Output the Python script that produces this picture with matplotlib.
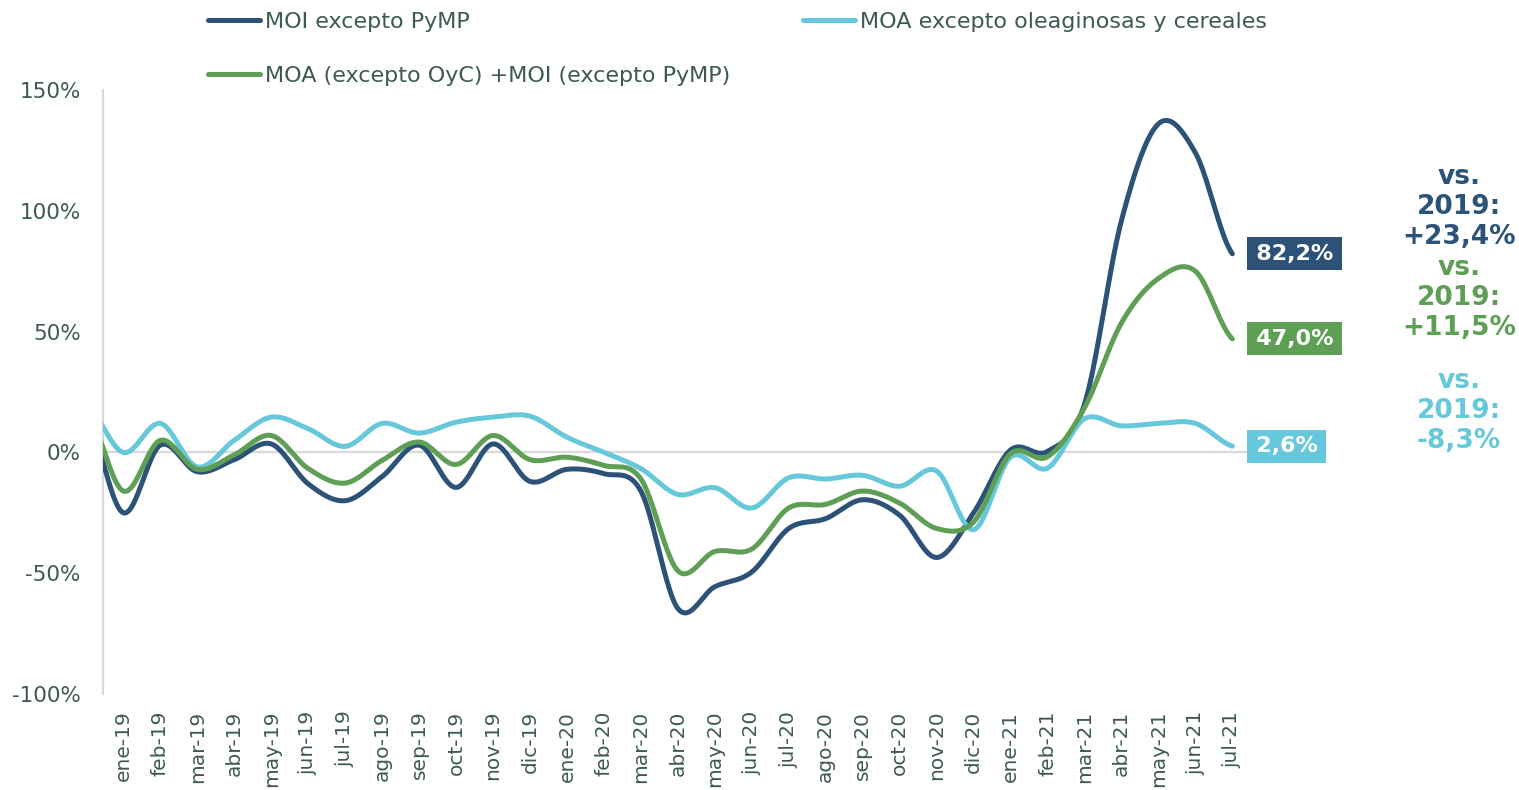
import matplotlib
matplotlib.use("Agg")
import matplotlib.pyplot as plt
import numpy as np
from matplotlib.lines import Line2D

# monthly year-on-year change (%), first value is dic-18 (outside the visible range)
meses = ["ene-19", "feb-19", "mar-19", "abr-19", "may-19", "jun-19", "jul-19", "ago-19",
         "sep-19", "oct-19", "nov-19", "dic-19", "ene-20", "feb-20", "mar-20", "abr-20",
         "may-20", "jun-20", "jul-20", "ago-20", "sep-20", "oct-20", "nov-20", "dic-20",
         "ene-21", "feb-21", "mar-21", "abr-21", "may-21", "jun-21", "jul-21"]
moi = [15, -25, 3, -8, -3, 3.5, -13, -20, -10, 3, -14.5, 3.5, -12, -7, -8.8, -16, -64.6,
       -55.6, -49.5, -31.5, -27.4, -19.6, -26, -43.5, -25, 1, 0.4, 20, 96, 136, 124, 82.2]
moa = [20, 0, 12, -6, 5, 14.6, 9.8, 2.5, 12, 8, 12.5, 14.6, 15, 6.3, 0, -6.7, -17.4,
       -14.6, -23, -10.5, -11, -9.5, -14, -7.7, -32, -2, -6.5, 13.9, 11, 12, 12, 2.6]
total = [18, -16, 5, -7, -1, 7, -6.7, -12.7, -3.3, 4.3, -5, 7, -3, -2, -5.4, -11, -49,
         -41, -40, -23, -21.5, -16, -21, -31.5, -28.8, -0.5, -1.8, 18.5, 53.6, 72, 75, 47.0]
vs_2019 = [23.4, 11.5, -8.3]

nombres = ["MOI excepto PyMP", "MOA excepto oleaginosas y cereales",
           "MOA (excepto OyC) +MOI (excepto PyMP)"]
colores = ["#2c5278", "#67c8dc", "#5e9e55"]
texto = "#3d5a50"
gris = "#d9d9d9"


def smooth(x, y, n=24):
    # Catmull-Rom curve through the points, like Excel's smoothed line
    y = np.asarray(y, dtype=float)
    p = np.concatenate([[y[0]], y, [y[-1]]])
    t = np.linspace(0, 1, n, endpoint=False)
    xs, ys = [], []
    for i in range(len(y) - 1):
        p0, p1, p2, p3 = p[i], p[i + 1], p[i + 2], p[i + 3]
        ys.append(0.5 * (2 * p1 + (-p0 + p2) * t + (2 * p0 - 5 * p1 + 4 * p2 - p3) * t ** 2
                         + (-p0 + 3 * p1 - 3 * p2 + p3) * t ** 3))
        xs.append(x[i] + t * (x[i + 1] - x[i]))
    xs.append([x[-1]])
    ys.append([y[-1]])
    return np.concatenate(xs), np.concatenate(ys)


def pct(v, signo=False):
    s = f"{v:+.1f}%" if signo and v > 0 else f"{v:.1f}%"
    return s.replace(".", ",")


plt.rcParams["font.family"] = ["DejaVu Sans"]
fig = plt.figure(figsize=(15.19, 7.9), dpi=100)
ax = fig.add_axes([103 / 1519, 1 - 694 / 790, 1146 / 1519, 604 / 790])

x = np.arange(-1, len(meses))
ax.axhline(0, color=gris, lw=1.6, zorder=1)
for serie, color in zip([moi, moa, total], colores):
    sx, sy = smooth(x, serie)
    ax.plot(sx, sy, color=color, lw=3.6, solid_capstyle="round", zorder=3)

# end-of-series value boxes
for serie, color in zip([moi, total, moa], [colores[0], colores[2], colores[1]]):
    v = serie[-1]
    ax.annotate(f"\u200a{pct(v)}\u200a", xy=(x[-1], v), xytext=(15.5, 0),
                textcoords="offset points", ha="left", va="center", color="white",
                fontsize=16, fontweight="bold", annotation_clip=False,
                bbox=dict(boxstyle="square,pad=0.29", fc=color, ec="none"))

ax.set_xlim(-0.55, 30.45)
ax.set_ylim(-100, 150)
ax.set_yticks([-100, -50, 0, 50, 100, 150])
ax.set_yticklabels([f"{v}%" for v in [-100, -50, 0, 50, 100, 150]])
ax.set_xticks(range(len(meses)))
ax.set_xticklabels(meses, rotation=90)
ax.tick_params(axis="y", length=0, pad=16, labelsize=15.5, labelcolor=texto)
ax.tick_params(axis="x", length=0, pad=12, labelsize=14.5, labelcolor=texto)
for lado in ["top", "right", "bottom"]:
    ax.spines[lado].set_visible(False)
ax.spines["left"].set_color(gris)
ax.spines["left"].set_linewidth(1.6)

# "vs. 2019" notes on the right
for v, color, yc in zip(vs_2019, [colores[0], colores[2], colores[1]], [207, 298, 411]):
    fig.text(1459 / 1519, 1 - yc / 790, f"vs.\n2019:\n{pct(v, signo=True)}",
             ha="center", va="center", color=color, fontsize=19, fontweight="bold",
             linespacing=1.2)

handles = [Line2D([], [], color=colores[0], lw=3.6, solid_capstyle="round"),
           Line2D([], [], color=colores[2], lw=3.6, solid_capstyle="round"),
           Line2D([], [], color=colores[1], lw=3.6, solid_capstyle="round")]
fig.legend(handles, [nombres[0], nombres[2], nombres[1]], ncol=2, frameon=False,
           loc="upper left", bbox_to_anchor=(208 / 1519, 1 - 12 / 790), borderaxespad=0,
           borderpad=0, fontsize=16, labelcolor=texto, handlelength=2.35,
           handletextpad=0.2, columnspacing=3.3, labelspacing=1.52)

fig.savefig("out.png", dpi=100)
